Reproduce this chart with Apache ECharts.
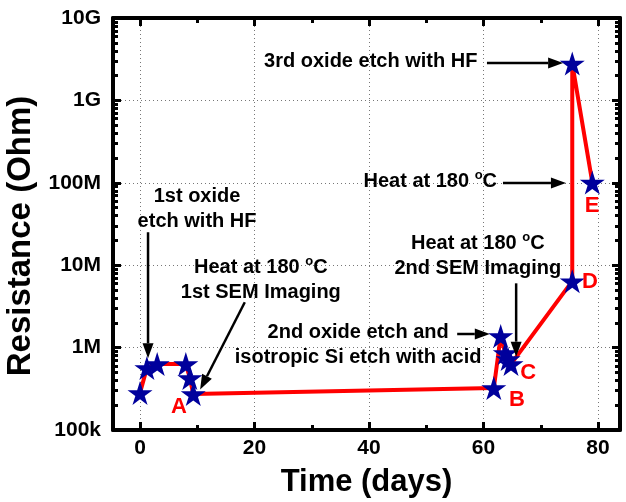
<!DOCTYPE html>
<html>
<head>
<meta charset="utf-8">
<script src="https://cdn.jsdelivr.net/npm/echarts@6/dist/echarts.min.js"></script>
<style>
  html, body { margin: 0; padding: 0; background: #fff; }
  #main { width: 626px; height: 502px; }
</style>
</head>
<body>
<div id="main"></div>
<script>
// 测量数据
var days = [0, 1.2, 3, 8, 8.7, 9.3, 61.8, 63, 63.8, 64.3, 64.8, 75.5, 75.5, 79];
var resist = [282e3, 565e3, 631e3, 631e3, 427e3, 273e3, 323e3, 1.38e6, 858e3, 726e3, 631e3, 6.4e6, 2.8e9, 1.01e8];

var xMajor = [0, 20, 40, 60, 80];
var xMinor = [10, 30, 50, 70];
var yMajor = [1e5, 1e6, 1e7, 1e8, 1e9, 1e10];
var yLabels = ["100k", "1M", "10M", "100M", "1G", "10G"];
var yMinor = [];
for (var d = 5; d < 10; d++) {
  for (var k = 2; k <= 9; k++) yMinor.push(k * Math.pow(10, d));
}

// 注释 [天, 指数]
var arrows = [
  [[1.4, 7.40], [1.4, 5.87]],
  [[18.3, 6.55], [10.5, 5.49]],
  [[55.4, 6.165], [61.1, 6.165]],
  [[65.7, 6.78], [65.7, 5.89]],
  [[60.6, 9.454], [73.9, 9.454]],
  [[63.4, 7.998], [74.4, 7.998]]
];
var notes = [
  { text: "1st oxide\netch with HF", pos: [9.96, 7.68] },
  { text: "Heat at 180 {sup|o}C\n1st SEM Imaging", pos: [21.1, 6.82] },
  { text: "2nd oxide etch and\nisotropic Si etch with acid", pos: [38.1, 6.03] },
  { text: "Heat at 180 {sup|o}C\n2nd SEM Imaging", pos: [59.0, 7.11] },
  { text: "3rd oxide etch with HF", pos: [40.3, 9.478] },
  { text: "Heat at 180 {sup|o}C", pos: [50.7, 8.02] }
];
var letters = [
  { text: "A", pos: [6.8, 5.28] },
  { text: "B", pos: [65.85, 5.36] },
  { text: "C", pos: [67.8, 5.69] },
  { text: "D", pos: [78.6, 6.80] },
  { text: "E", pos: [78.95, 7.72] }
];

var font = "'Liberation Sans', Arial, sans-serif";
var star = "path://M50,0 L61,35 L98,35 L68,57 L79,91 L50,70 L21,91 L32,57 L2,35 L39,35 Z";

var myChart = echarts.init(document.getElementById("main"));

function xAxisCfg(pos, ticks, len, main) {
  return {
    type: "value",
    position: pos,
    min: -4.72,
    max: 83.84,
    axisLine: { show: main, onZero: false, lineStyle: { color: "#000", width: 4 } },
    axisTick: { show: true, inside: true, customValues: ticks, length: len, lineStyle: { color: "#000", width: 3 } },
    axisLabel: { show: false },
    splitLine: { show: false }
  };
}
function yAxisCfg(pos, ticks, len, main) {
  return {
    type: "log",
    position: pos,
    min: 1e5,
    max: 1e10,
    axisLine: { show: main, onZero: false, lineStyle: { color: "#000", width: 4 } },
    axisTick: { show: true, inside: true, customValues: ticks, length: len, lineStyle: { color: "#000", width: 3 } },
    axisLabel: { show: false },
    splitLine: { show: false }
  };
}

var xAxes = [
  xAxisCfg("bottom", xMajor, 8, true),
  xAxisCfg("bottom", xMinor, 5, false),
  xAxisCfg("top", xMajor, 8, true),
  xAxisCfg("top", xMinor, 5, false)
];
xAxes[0].axisLabel = {
  show: true, customValues: xMajor, margin: 8,
  color: "#000", fontFamily: font, fontWeight: "bold", fontSize: 21
};
xAxes[0].splitLine = { show: true, lineStyle: { color: "#777", type: [1, 3], width: 1 } };
xAxes[0].name = "Time (days)";
xAxes[0].nameLocation = "middle";
xAxes[0].nameGap = 37;
xAxes[0].nameTextStyle = { color: "#000", fontFamily: font, fontWeight: "bold", fontSize: 31 };

var yAxes = [
  yAxisCfg("left", yMajor, 8, true),
  yAxisCfg("left", yMinor, 5, false),
  yAxisCfg("right", yMajor, 8, true),
  yAxisCfg("right", yMinor, 5, false)
];
yAxes[0].axisLabel = {
  show: true, customValues: yMajor, margin: 12,
  color: "#000", fontFamily: font, fontWeight: "bold", fontSize: 21,
  formatter: function (v) { return yLabels[Math.round(Math.log10(v)) - 5]; }
};
yAxes[0].splitLine = { show: true, lineStyle: { color: "#777", type: [1, 3], width: 1 } };
yAxes[0].name = "Resistance (Ohm)";
yAxes[0].nameLocation = "middle";
yAxes[0].nameRotate = 90;
yAxes[0].nameGap = 70;
yAxes[0].nameTextStyle = { color: "#000", fontFamily: font, fontWeight: "bold", fontSize: 33, padding: [0, 24, 0, 0] };

option = {
  animation: false,
  backgroundColor: "#fff",
  grid: { left: 113, right: 6, top: 18, bottom: 72, outerBoundsMode: "none" },
  xAxis: xAxes,
  yAxis: yAxes,
  series: [
    {
      type: "line",
      data: days.map(function (x, i) { return [x, resist[i]]; }),
      symbol: star,
      symbolSize: [25, 24],
      showAllSymbol: true,
      lineStyle: { color: "#ff0000", width: 4 },
      itemStyle: { color: "#00009c" },
      z: 5
    }
  ]
};
myChart.setOption(option);

// 注释画在数据坐标上
function px(p) {
  return myChart.convertToPixel({ xAxisIndex: 0, yAxisIndex: 0 }, [p[0], Math.pow(10, p[1])]);
}
var graphics = [];
arrows.forEach(function (a) {
  var p0 = px(a[0]), p1 = px(a[1]);
  var ang = Math.atan2(p1[1] - p0[1], p1[0] - p0[0]);
  var hl = 15, hw = 5.5;
  var bx = p1[0] - hl * Math.cos(ang), by = p1[1] - hl * Math.sin(ang);
  graphics.push({
    type: "line", z: 10,
    shape: { x1: p0[0], y1: p0[1], x2: bx, y2: by },
    style: { stroke: "#000", lineWidth: 2.5 }
  });
  graphics.push({
    type: "polygon", z: 10,
    shape: { points: [
      [p1[0], p1[1]],
      [bx - hw * Math.sin(ang), by + hw * Math.cos(ang)],
      [bx + hw * Math.sin(ang), by - hw * Math.cos(ang)]
    ] },
    style: { fill: "#000" }
  });
});
notes.forEach(function (n) {
  var p = px(n.pos);
  graphics.push({
    type: "text", x: p[0], y: p[1], z: 10,
    style: {
      text: n.text, align: "center", verticalAlign: "middle",
      fill: "#000", font: "bold 20px " + font, lineHeight: 25,
      rich: {
        sup: { fontSize: 13, fontWeight: "bold", fontFamily: font, verticalAlign: "top", lineHeight: 25, padding: [0, 0, 10, 0] }
      }
    }
  });
});
letters.forEach(function (n) {
  var p = px(n.pos);
  graphics.push({
    type: "text", x: p[0], y: p[1], z: 10,
    style: { text: n.text, align: "center", verticalAlign: "middle", fill: "#ff0000", font: "bold 22px " + font }
  });
});
myChart.setOption({ graphic: graphics });

window.addEventListener("resize", function () {
  myChart.resize();
});
</script>
</body>
</html>
